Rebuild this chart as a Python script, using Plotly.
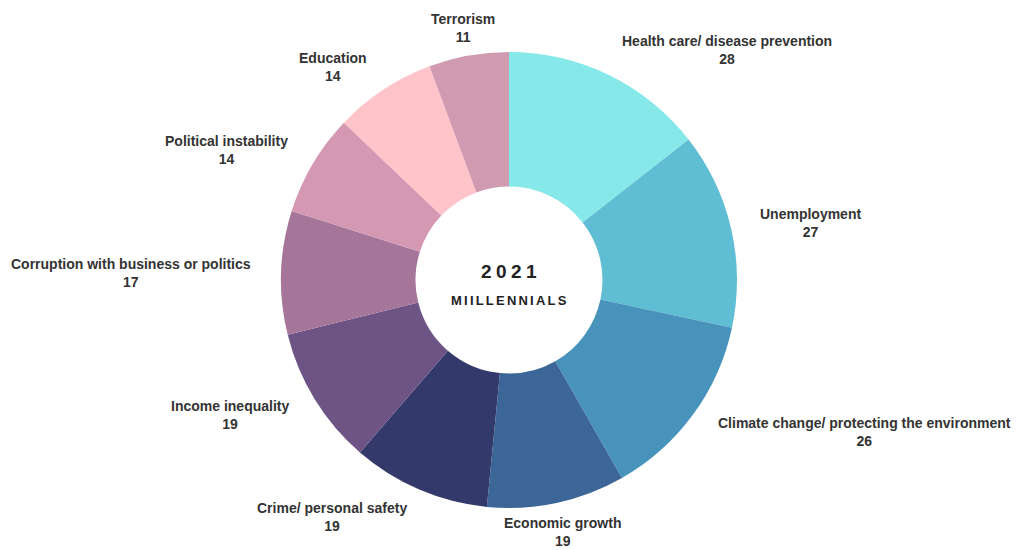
import plotly.graph_objects as go

# Share of millennials naming each issue as a top concern (2021)
issues = [
    "Health care/ disease prevention",
    "Unemployment",
    "Climate change/ protecting the environment",
    "Economic growth",
    "Crime/ personal safety",
    "Income inequality",
    "Corruption with business or politics",
    "Political instability",
    "Education",
    "Terrorism",
]
values = [28, 27, 26, 19, 19, 19, 17, 14, 14, 11]
colors = [
    "#86E8E8", "#5FBDD4", "#4893BB", "#3C6698", "#333A6B",
    "#6E5485", "#A57699", "#D498B2", "#FFC3CA", "#D09AB1",
]

# Label anchor points (paper pixels) for each issue, in the order above
label_px = [
    (727, 50), (810, 223), (864, 432), (562, 532), (332, 517),
    (230, 415), (131, 273), (226, 150), (333, 67), (463, 28),
]

W, H = 1016, 550
cx, cy, R = 509, 280, 228

fig = go.Figure(
    go.Pie(
        labels=issues,
        values=values,
        marker=dict(colors=colors, line=dict(width=0)),
        hole=0.41,
        sort=False,
        direction="clockwise",
        rotation=0,
        textinfo="none",
        hoverinfo="label+value",
        domain=dict(x=[(cx - R) / W, (cx + R) / W], y=[(H - cy - R) / H, (H - cy + R) / H]),
        showlegend=False,
    )
)

font_family = "Liberation Sans, Arial, sans-serif"
annotations = []
for name, val, (px, py) in zip(issues, values, label_px):
    annotations.append(
        dict(
            x=px / W, y=1 - py / H, xref="paper", yref="paper",
            text=f"<b>{name}</b><br><b>{val}</b>",
            showarrow=False, xanchor="center", yanchor="middle",
            align="center",
            font=dict(family=font_family, size=14, color="#333333"),
        )
    )


def spaced(word, gap_size):
    """Letter-spaced bold text using thin spaces of a given font size."""
    gap = f'<span style="font-size:{gap_size}px">\u2009</span>'
    return "<b>" + gap.join(word) + "</b>"


annotations.append(
    dict(x=cx / W, y=1 - 270 / H, xref="paper", yref="paper",
         text=spaced("2021", 22), showarrow=False,
         font=dict(family=font_family, size=19, color="#222222"))
)
annotations.append(
    dict(x=cx / W, y=1 - 300 / H, xref="paper", yref="paper",
         text=spaced("MIILLENNIALS", 11), showarrow=False,
         font=dict(family=font_family, size=13, color="#222222"))
)

fig.update_layout(
    width=W, height=H,
    margin=dict(l=0, r=0, t=0, b=0),
    paper_bgcolor="white", plot_bgcolor="white",
    annotations=annotations,
)

fig.write_html("out.html")
